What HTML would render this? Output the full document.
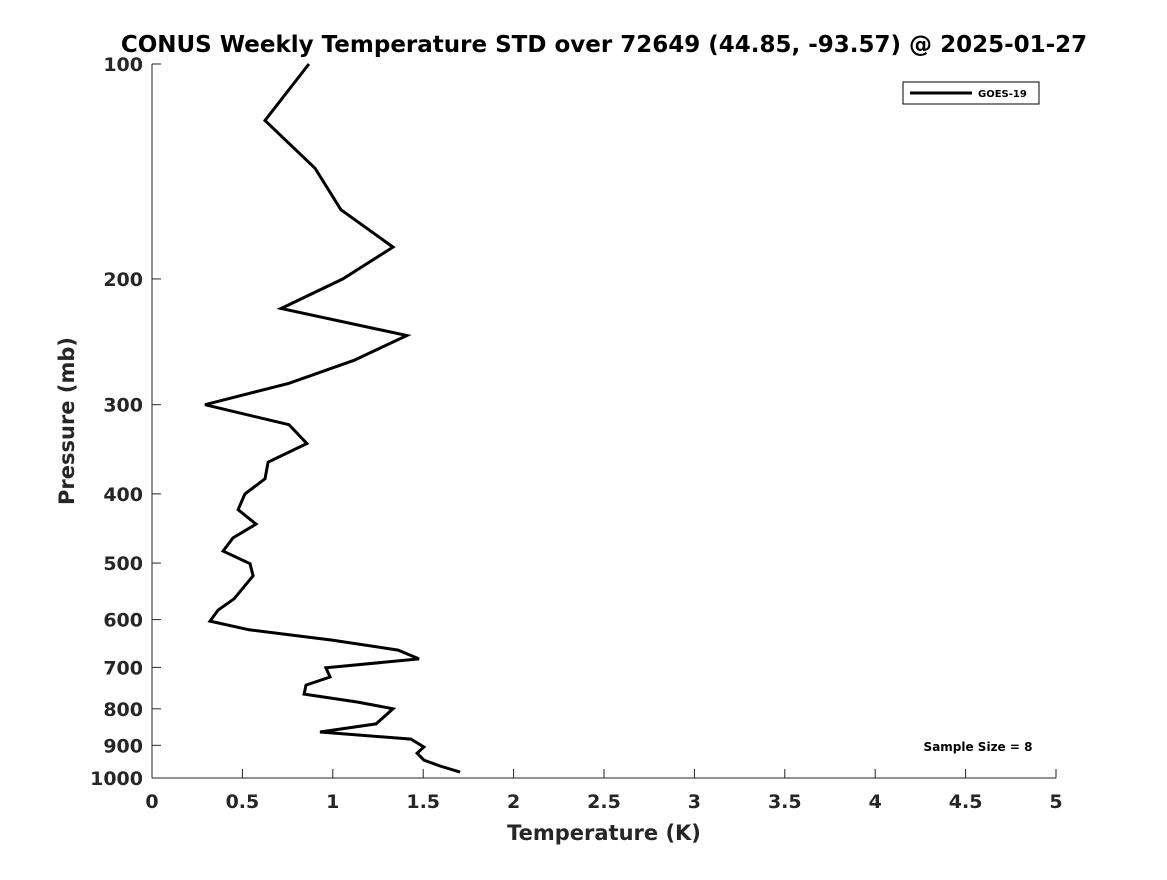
<!DOCTYPE html>
<html><head><meta charset="utf-8"><style>
body{margin:0;background:#fff;}
svg text{font-family:"DejaVu Sans","Liberation Sans",sans-serif;font-weight:bold;fill:#262626;}
</style></head><body>
<svg id="chart" width="1167" height="875" xmlns="http://www.w3.org/2000/svg">
<rect width="1167" height="875" fill="#fff"/>
<text x="604" y="52" text-anchor="middle" font-size="23" style="fill:#000">CONUS Weekly Temperature STD over 72649 (44.85, -93.57) @ 2025-01-27</text>
<g id="axes"></g>
<polyline id="series" fill="none" stroke="#000" stroke-width="3" stroke-linejoin="miter"/>
<g>
<rect x="903" y="82" width="136" height="22" fill="#fff" stroke="#000" stroke-width="1"/>
<line x1="910" y1="93" x2="972" y2="93" stroke="#000" stroke-width="3"/>
<text x="978" y="97" font-size="10" style="fill:#000">GOES-19</text>
</g>
<text x="978" y="751" text-anchor="middle" font-size="12" style="fill:#000">Sample Size = 8</text>
<text x="604" y="840" text-anchor="middle" font-size="21">Temperature (K)</text>
<text transform="translate(74,421) rotate(-90)" text-anchor="middle" font-size="21">Pressure (mb)</text>
</svg>
<script>
const temps=[0.868,0.625,0.902,1.045,1.333,1.056,0.714,1.410,1.117,0.758,0.293,0.758,0.857,0.642,0.625,0.514,0.476,0.575,0.448,0.393,0.542,0.559,0.454,0.365,0.321,0.537,0.996,1.361,1.477,0.962,0.985,0.852,0.841,1.139,1.333,1.239,0.929,1.432,1.504,1.466,1.504,1.593,1.704];
const pressures=[100,120,140,160,180.5,200,220,240,260,280,300,320,340,361,381,400,421,441,461,481,501,521,561,582,603,620,641,662,681,701,722,741,763,783,800,840,862,882,905,923,944,962,981];
const xTicks=[0,0.5,1,1.5,2,2.5,3,3.5,4,4.5,5];
const xTickLabels=["0","0.5","1","1.5","2","2.5","3","3.5","4","4.5","5"];
const yTicks=[100,200,300,400,500,600,700,800,900,1000];
const yTickLabels=["100","200","300","400","500","600","700","800","900","1000"];
const X0=152,X1=1056,Y0=64,Y1=778;
function xs(v){return X0+(v-0)/(5-0)*(X1-X0);}
function ys(p){return Y0+(Math.log10(p)-2)/(3-2)*(Y1-Y0);}
const ns="http://www.w3.org/2000/svg";
const ax=document.getElementById('axes');
function mk(t,a,parent){const e=document.createElementNS(ns,t);for(const k in a)e.setAttribute(k,a[k]);(parent||ax).appendChild(e);return e;}
let l=mk('line',{x1:X0,y1:Y0,x2:X0,y2:Y1,stroke:'#262626','stroke-width':1});


l=mk('line',{x1:X0,y1:Y1,x2:X1,y2:Y1,stroke:'#262626','stroke-width':1});


xTicks.forEach((v,i)=>{const x=xs(v);
 const t=mk('line',{x1:x,y1:Y1,x2:x,y2:Y1-9,stroke:'#262626'});
 
 
 const tx=mk('text',{x:x,y:808,'text-anchor':'middle','font-size':19});tx.textContent=xTickLabels[i];
 
 
});
yTicks.forEach((v,i)=>{const y=ys(v);
 const t=mk('line',{x1:X0,y1:y,x2:X0+9,y2:y,stroke:'#262626'});
 
 
 const tx=mk('text',{x:143,y:y+7,'text-anchor':'end','font-size':19});tx.textContent=yTickLabels[i];
 
 
});
document.getElementById('series').setAttribute('points',temps.map((t,i)=>xs(t).toFixed(1)+','+ys(pressures[i]).toFixed(1)).join(' '));
</script>
</body></html>
